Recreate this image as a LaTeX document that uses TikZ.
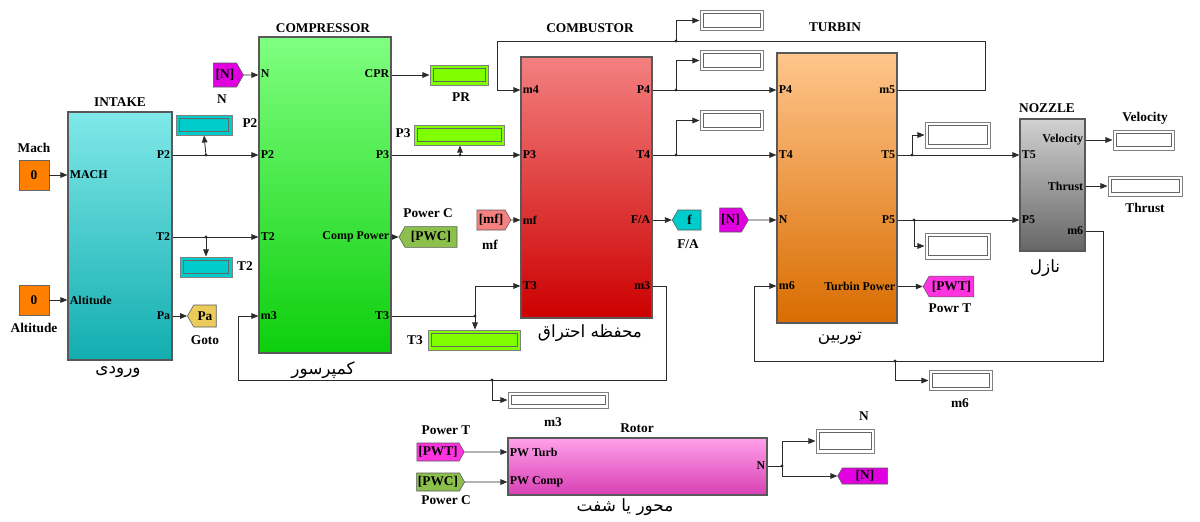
\documentclass[tikz,border=0pt]{standalone}
\usepackage{fontspec}
\setmainfont{Liberation Serif}
\newfontfamily\arabicfont[Script=Arabic]{DejaVu Sans}
\TeXXeTstate=1
\usetikzlibrary{arrows.meta, shapes.symbols, calc}
\definecolor{wireDark}{HTML}{2B2B2B}
\definecolor{constOrange}{HTML}{FF8000}
\definecolor{dispCyan}{HTML}{00CCCC}
\definecolor{dispGreen}{HTML}{80FF00}
\definecolor{tagMagenta}{HTML}{E000E0}
\definecolor{tagPink}{HTML}{FF33E0}
\definecolor{tagOlive}{HTML}{8CC04C}
\definecolor{tagGold}{HTML}{EBCB5A}
\definecolor{tagSalmon}{HTML}{F48080}
\definecolor{intakeTop}{HTML}{80E8E8}
\definecolor{intakeBot}{HTML}{12ADB0}
\definecolor{rotorTop}{HTML}{FFA0EA}
\definecolor{rotorBot}{HTML}{D840B4}

\begin{document}
\begin{tikzpicture}[x=0.025cm, y=-0.025cm,
    blk/.style={rectangle, draw=black!65, line width=0.8pt, inner sep=0pt},
    wire/.style={draw=wireDark, line width=0.6pt, -{Triangle[length=5pt, width=4pt]}},
    plain/.style={draw=wireDark, line width=0.6pt},
    port/.style={font=\bfseries\fontsize{8.5}{10}\selectfont, inner sep=1.5pt},
    title/.style={font=\bfseries\fontsize{9.5}{11}\selectfont, inner sep=0pt},
    lbl/.style={font=\bfseries\fontsize{9.5}{11}\selectfont, inner sep=0pt},
    arab/.style={font=\arabicfont\fontsize{12}{14}\selectfont, inner sep=0pt},
    const/.style={rectangle, draw=black!60, fill=constOrange, minimum size=0.75cm,
                  font=\bfseries\fontsize{9.5}{11}\selectfont},
    disp/.style={rectangle, draw=black!50, line width=0.7pt, fill=#1, inner sep=0pt,
                 path picture={\draw[black!60, line width=0.6pt]
                   ($(path picture bounding box.south west)+(2.2pt,2.2pt)$) rectangle
                   ($(path picture bounding box.north east)-(2.2pt,2.2pt)$);}},
    fromtag/.style={signal, signal to=east, signal pointer angle=120, draw=black!65,
                    fill=#1, inner sep=1pt, font=\bfseries\fontsize{9.5}{11}\selectfont},
    gototag/.style={signal, signal to=west, signal pointer angle=120, draw=black!65,
                    fill=#1, inner sep=1pt, font=\bfseries\fontsize{9.5}{11}\selectfont},
  ]
    \useasboundingbox (0,0) rectangle (1200,521);

    % --- INTAKE ---
    \node[blk, top color=intakeTop, bottom color=intakeBot,
          minimum width=2.6cm, minimum height=6.2cm] (intake) at (120,236) {};
    \node[title] (tIntake) at (120,102) {INTAKE};
    \node[arab] (aIntake) at (118,372) {\beginR ورودی\endR};
    \node[port, anchor=west] (pMach) at (intake.west |- 0,175) {MACH};
    \node[port, anchor=west] (pAlt) at (intake.west |- 0,300) {Altitude};
    \node[port, anchor=east] (pP2i) at (intake.east |- 0,155) {P2};
    \node[port, anchor=east] (pT2i) at (intake.east |- 0,237) {T2};
    \node[port, anchor=east] (pPai) at (intake.east |- 0,316) {Pa};

    \node[const] (mach) at (34,175) {0};
    \node[lbl] (lMach) at (34,148) {Mach};
    \node[const] (alt) at (34,300) {0};
    \node[lbl] (lAlt) at (34,328) {Altitude};

    \node[disp=dispCyan, minimum width=1.4cm, minimum height=0.5cm] (p2d) at (204,125) {};
    \node[lbl] (lP2) at (250,123) {P2};
    \node[disp=dispCyan, minimum width=1.3cm, minimum height=0.5cm] (t2d) at (206,267) {};
    \node[lbl] (lT2) at (245,266) {T2};
    \node[gototag=tagGold, minimum width=0.72cm, minimum height=0.55cm] (pa) at (205,316) {Pa};
    \node[lbl] (lPa) at (205,340) {Goto};

    % --- COMPRESSOR ---
    \node[blk, top color=green!50!white, bottom color=green!80!black!95,
          minimum width=3.3cm, minimum height=7.9cm] (comp) at (325,195) {};
    \node[title] (tComp) at (323,28) {COMPRESSOR};
    \node[arab] (aComp) at (323,370) {\beginR کمپرسور\endR};
    \node[port, anchor=west] at (comp.west |- 0,74) {N};
    \node[port, anchor=west] at (comp.west |- 0,155) {P2};
    \node[port, anchor=west] at (comp.west |- 0,237) {T2};
    \node[port, anchor=west] at (comp.west |- 0,316) {m3};
    \node[port, anchor=east] at (comp.east |- 0,74) {CPR};
    \node[port, anchor=east] at (comp.east |- 0,155) {P3};
    \node[port, anchor=east] at (comp.east |- 0,237) {Comp Power};
    \node[port, anchor=east] at (comp.east |- 0,316) {T3};

    \node[fromtag=tagMagenta, minimum width=0.75cm, minimum height=0.6cm] (nc) at (225,75) {[N]};
    \node[lbl] (lNc) at (222,99) {N};
    \node[disp=dispGreen, minimum width=1.45cm, minimum height=0.5cm] (prd) at (459,75) {};
    \node[lbl] (lPR) at (461,97) {PR};
    \node[disp=dispGreen, minimum width=2.27cm, minimum height=0.5cm] (p3d) at (459.5,135) {};
    \node[lbl] (lP3) at (403,133) {P3};
    \node[gototag=tagOlive, minimum width=1.45cm, minimum height=0.52cm] (pwc) at (431,237) {[PWC]};
    \node[lbl] (lPwc) at (428,213) {Power C};
    \node[disp=dispGreen, minimum width=2.3cm, minimum height=0.5cm] (t3d) at (474,340) {};
    \node[lbl] (lT3) at (415,340) {T3};

    % --- COMBUSTOR ---
    \node[blk, top color=tagSalmon, middle color=red!70!white, bottom color=red!80!black,
          minimum width=3.275cm, minimum height=6.525cm] (comb) at (586.5,187.5) {};
    \node[title] (tComb) at (590,28) {COMBUSTOR};
    \node[arab] (aComb) at (590,333) {\beginR محفظه احتراق\endR};
    \node[port, anchor=west] at (comb.west |- 0,90) {m4};
    \node[port, anchor=west] at (comb.west |- 0,155) {P3};
    \node[port, anchor=west] at (comb.west |- 0,220) {mf};
    \node[port, anchor=west] at (comb.west |- 0,286) {T3};
    \node[port, anchor=east] at (comb.east |- 0,90) {P4};
    \node[port, anchor=east] at (comb.east |- 0,155) {T4};
    \node[port, anchor=east] at (comb.east |- 0,220) {F/A};
    \node[port, anchor=east] at (comb.east |- 0,286) {m3};

    \node[fromtag=tagSalmon, minimum width=0.85cm, minimum height=0.5cm] (mf) at (491,220) {[mf]};
    \node[lbl] (lMf) at (490,245) {mf};
    \node[gototag=dispCyan, minimum width=0.72cm, minimum height=0.5cm] (fa) at (689.5,220) {f};
    \node[lbl] (lFa) at (688,244) {F/A};
    \foreach \nm/\yy in {dm5/20.5, dp4/60.5, dt4/120.5}
      \node[disp=white, minimum width=1.575cm, minimum height=0.52cm] (\nm) at (731.5,\yy) {};

    % --- TURBIN ---
    \node[blk, top color=orange!45!white, bottom color=orange!85!black,
          minimum width=3cm, minimum height=6.75cm] (turb) at (837,188) {};
    \node[title] (tTurb) at (835,27) {TURBIN};
    \node[arab] (aTurb) at (840,338) {\beginR توربین\endR};
    \node[port, anchor=west] at (turb.west |- 0,90) {P4};
    \node[port, anchor=west] at (turb.west |- 0,155) {T4};
    \node[port, anchor=west] at (turb.west |- 0,220) {N};
    \node[port, anchor=west] at (turb.west |- 0,286) {m6};
    \node[port, anchor=east] at (turb.east |- 0,90) {m5};
    \node[port, anchor=east] at (turb.east |- 0,155) {T5};
    \node[port, anchor=east] at (turb.east |- 0,220) {P5};
    \node[port, anchor=east] at (turb.east |- 0,286) {Turbin Power};

    \node[fromtag=tagMagenta, minimum width=0.72cm, minimum height=0.6cm] (nt) at (730.5,220) {[N]};
    \node[disp=white, minimum width=1.625cm, minimum height=0.65cm] (dt5) at (957.5,135) {};
    \node[disp=white, minimum width=1.625cm, minimum height=0.65cm] (dp5) at (957.5,246) {};
    \node[gototag=tagPink, minimum width=1.27cm, minimum height=0.52cm] (pwt) at (951.5,286.5) {[PWT]};
    \node[lbl] (lPwt) at (950,308) {Powr T};

    % --- NOZZLE ---
    \node[blk, top color=black!18, bottom color=black!60,
          minimum width=1.625cm, minimum height=3.3cm] (noz) at (1052.5,185) {};
    \node[title] (tNoz) at (1047,108) {NOZZLE};
    \node[arab] (aNoz) at (1045,268) {\beginR نازل\endR};
    \node[port, anchor=west] at (noz.west |- 0,155) {T5};
    \node[port, anchor=west] at (noz.west |- 0,220) {P5};
    \node[port, anchor=east] at (noz.east |- 0,140) {Velocity};
    \node[port, anchor=east] at (noz.east |- 0,186) {Thrust};
    \node[port, anchor=east] at (noz.east |- 0,231) {m6};

    \node[disp=white, minimum width=1.525cm, minimum height=0.5cm] (vel) at (1143.5,140) {};
    \node[lbl] (lVel) at (1145,118) {Velocity};
    \node[disp=white, minimum width=1.85cm, minimum height=0.5cm] (thr) at (1145,186) {};
    \node[lbl] (lThr) at (1145,208) {Thrust};
    \node[disp=white, minimum width=1.575cm, minimum height=0.52cm] (m6d) at (960.5,380.5) {};
    \node[lbl] (lM6) at (960,403) {m6};
    \node[disp=white, minimum width=2.5cm, minimum height=0.4cm] (m3d) at (558,400) {};
    \node[lbl] (lM3) at (553,422) {m3};

    % --- Rotor ---
    \node[blk, top color=rotorTop, bottom color=rotorBot,
          minimum width=6.475cm, minimum height=1.425cm] (rotor) at (637.5,466.5) {};
    \node[title] (tRot) at (637,428) {Rotor};
    \node[arab] (aRot) at (625,507) {\beginR محور یا شفت\endR};
    \node[port, anchor=west] at (rotor.west |- 0,452) {PW Turb};
    \node[port, anchor=west] at (rotor.west |- 0,482) {PW Comp};
    \node[port, anchor=east] at (rotor.east |- 0,466) {N};

    \node[fromtag=tagPink, minimum width=0.9cm, minimum height=0.45cm] (pwtf) at (438,452) {[PWT]};
    \node[lbl] (lPwtf) at (446,430) {Power T};
    \node[fromtag=tagOlive, minimum width=0.9cm, minimum height=0.45cm] (pwcf) at (438,482) {[PWC]};
    \node[lbl] (lPwcf) at (446,500) {Power C};
    \node[disp=white, minimum width=1.45cm, minimum height=0.6cm] (nd) at (845,441) {};
    \node[lbl] (lNd) at (864,416) {N};
    \node[gototag=tagMagenta, minimum width=1.25cm, minimum height=0.4cm] (ng) at (865,476) {[N]};

    % --- branch points ---
    \coordinate (jP2) at (206,155);   \coordinate (jT2) at (206,237);
    \coordinate (jP3) at (460,155);   \coordinate (jT3) at (475,316);
    \coordinate (jM3) at (492,380);   \coordinate (jM5) at (676,41);
    \coordinate (jP4) at (676,90);    \coordinate (jT4) at (676,155);
    \coordinate (jT5) at (912,155);   \coordinate (jP5) at (914,220);
    \coordinate (jM6) at (895,361);   \coordinate (jN) at (782,466);
    \foreach \j in {jP2,jT2,jP3,jT3,jM3,jM5,jP4,jT4,jT5,jP5,jM6,jN}
      \fill[wireDark] (\j) circle (1.6);

    % --- signals ---
    \draw[wire] (mach) -- (intake.west |- mach);
    \draw[wire] (alt) -- (intake.west |- alt);
    \draw[wire] (intake.east |- jP2) -- (comp.west |- jP2);
    \draw[wire] (jP2) -- (p2d.south);
    \draw[wire] (intake.east |- jT2) -- (comp.west |- jT2);
    \draw[wire] (jT2) -- (t2d.north);
    \draw[wire] (intake.east |- pa) -- (pa.west);
    \draw[wire] (nc) -- (comp.west |- nc);
    \draw[wire] (comp.east |- prd) -- (prd.west);
    \draw[wire] (comp.east |- jP3) -- (comb.west |- jP3);
    \draw[wire] (jP3) -- (jP3 |- p3d.south);
    \draw[wire] (comp.east |- pwc) -- (pwc.west);
    \draw[wire] (comp.east |- jT3) -- (jT3) -- ++(0,-30) -- (comb.west |- 0,286);
    \draw[wire] (jT3) -- (jT3 |- t3d.north);
    \draw[wire] (mf) -- (comb.west |- mf);
    \draw[wire] (comb.east |- fa) -- (fa.west);
    \draw[wire] (comb.east |- 0,286) -- (666,286) -- (666,380) -- (238,380)
      -- (238,316) -- (comp.west |- 0,316);
    \draw[wire] (jM3) |- (m3d.west);
    \draw[wire] (turb.east |- 0,90) -- (985,90) -- (985,41) -- (497,41)
      -- (497,90) -- (comb.west |- 0,90);
    \draw[wire] (jM5) |- (dm5.west);
    \draw[wire] (comb.east |- jP4) -- (turb.west |- jP4);
    \draw[wire] (jP4) |- (dp4.west);
    \draw[wire] (comb.east |- jT4) -- (turb.west |- jT4);
    \draw[wire] (jT4) |- (dt4.west);
    \draw[wire] (nt) -- (turb.west |- nt);
    \draw[wire] (turb.east |- jT5) -- (noz.west |- jT5);
    \draw[wire] (jT5) |- (dt5.west);
    \draw[wire] (turb.east |- jP5) -- (noz.west |- jP5);
    \draw[wire] (jP5) |- (dp5.west);
    \draw[wire] (turb.east |- pwt) -- (pwt.west);
    \draw[wire] (noz.east |- vel) -- (vel.west);
    \draw[wire] (noz.east |- thr) -- (thr.west);
    \draw[wire] (noz.east |- 0,231) -- (1103,231) -- (1103,361) -- (754,361)
      -- (754,286) -- (turb.west |- 0,286);
    \draw[wire] (jM6) |- (m6d.west);
    \draw[wire] (pwtf) -- (rotor.west |- pwtf);
    \draw[wire] (pwcf) -- (rotor.west |- pwcf);
    \draw[plain] (rotor.east |- jN) -- (jN);
    \draw[wire] (jN) |- (nd.west);
    \draw[wire] (jN) |- (ng.west);
  \end{tikzpicture}
\end{document}
